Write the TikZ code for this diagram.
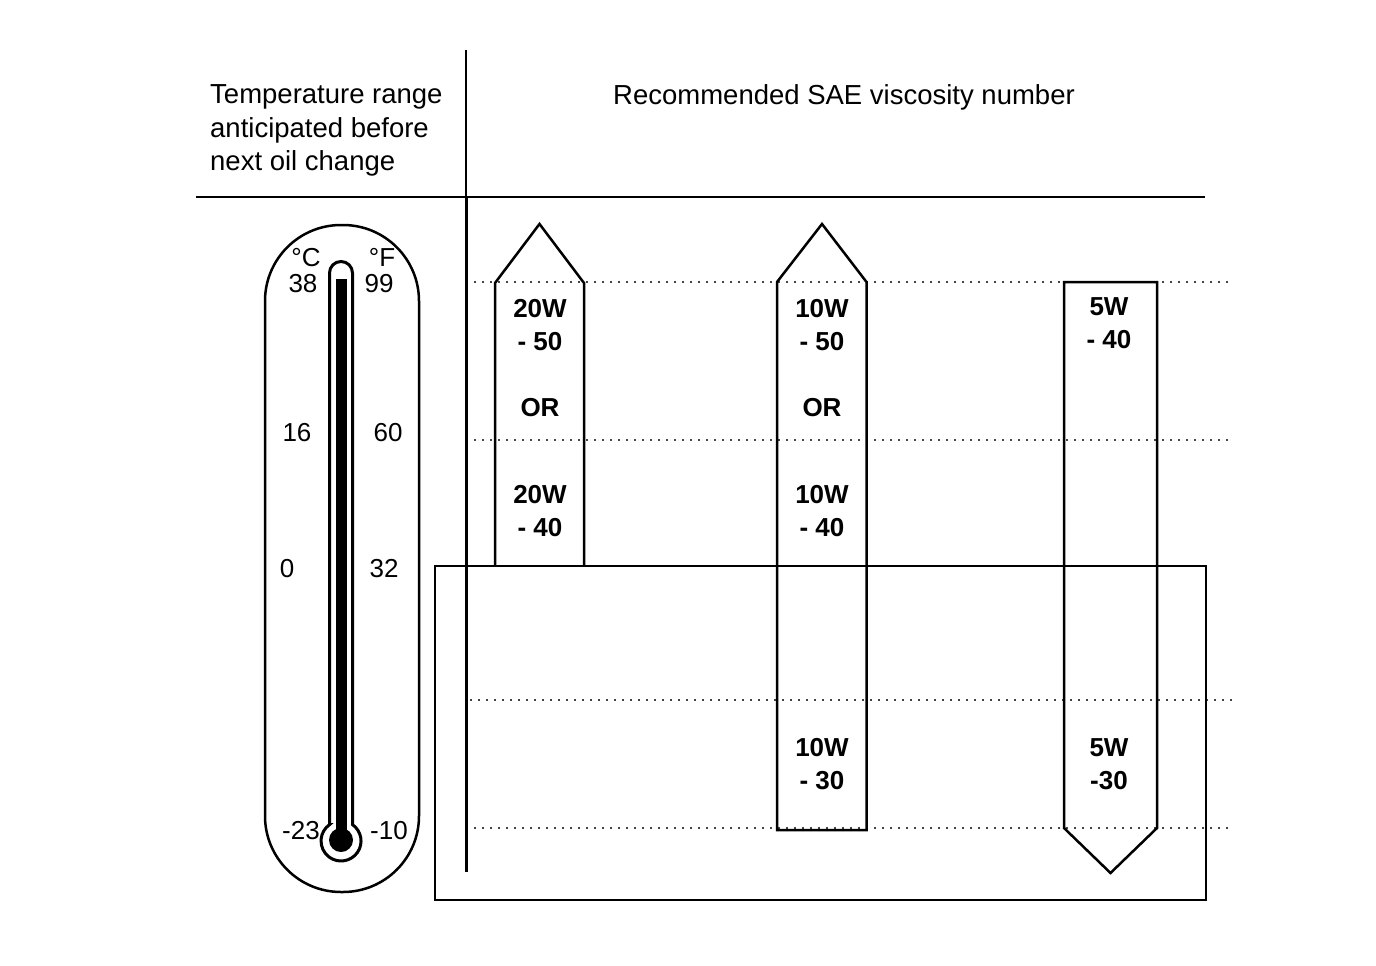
\documentclass[tikz,border=0pt]{standalone}
\usepackage{fontspec}
\setmainfont{Liberation Sans}
\usetikzlibrary{positioning,calc}
\definecolor{oilink}{HTML}{000000}
\definecolor{oilgrid}{HTML}{444444}
\tikzset{
  hdr/.style={font=\fontsize{27.5}{33}\selectfont, inner sep=0pt, text=oilink},
  scalelbl/.style={font=\fontsize{26}{30}\selectfont, inner sep=0pt, anchor=base, text=oilink},
  grade/.style={font=\bfseries\fontsize{26}{30}\selectfont, inner sep=0pt, anchor=base, text=oilink},
  bar/.style={draw=oilink, line width=2.5pt, line join=miter},
  thermo/.style={draw=oilink, line width=2.5pt},
  rule/.style={draw=oilink, line width=2.5pt},
  thinrule/.style={draw=oilink, line width=1.2pt},
  divider/.style={draw=oilink, line width=3pt},
  frame/.style={draw=oilink, line width=1.5pt},
  guide/.style={draw=oilgrid, line width=1.5pt, dash pattern=on 2pt off 6pt},
}
\begin{document}
\begin{tikzpicture}[x=1pt,y=-1pt]
  \useasboundingbox (0,0) rectangle (1376,966);
  \foreach \y/\xa/\xb in {282/466/1230, 440/466/1230, 700/470/1235, 828/466/1230}
    \draw[guide] (\xa,\y) -- (\xb,\y);
  \draw[rule] (196,197) -- (1205,197);
  \draw[thinrule] (466,50) -- (466,197);
  \draw[divider] (466,197) -- (466,872);
  \draw[frame] (435,566) rectangle (1206,900);

  \node[hdr,anchor=base west] (rangeA) at (210,103) {Temperature range};
  \node[hdr,anchor=base west] (rangeB) at (210,137) {anticipated before};
  \node[hdr,anchor=base west] (rangeC) at (210,170) {next oil change};
  \node[hdr,anchor=base] (sae) at (844,104) {Recommended SAE viscosity number};

  \draw[thermo,rounded corners=76] (265,225) rectangle (419,892);
  \draw[thermo,line width=3pt] (329.5,824.6) -- (329.5,273) arc (180:360:11.5)
    -- (352.5,824.6) arc (-55:235:20) -- cycle;
  \fill[oilink] (335.5,279) rectangle (346.5,836);
  \fill[oilink] (341,840) circle (12);

  \node[scalelbl] (degC) at (306,266) {°C};
  \node[scalelbl] (degF) at (382,266) {°F};
  \node[scalelbl] (c38) at (303,292) {38};
  \node[scalelbl] (f99) at (379,292) {99};
  \node[scalelbl] (c16) at (297,441) {16};
  \node[scalelbl] (f60) at (388,441) {60};
  \node[scalelbl] (c0) at (287,577) {0};
  \node[scalelbl] (f32) at (384,577) {32};
  \node[scalelbl] (cm23) at (301,839) {-23};
  \node[scalelbl] (fm10) at (389,839) {-10};

  \draw[bar] (495,566) -- (495,283) -- (539.5,224) -- (584,283) -- (584,566);
  \draw[bar] (777,830) -- (777,282) -- (822,224) -- (866.5,282) -- (866.5,830) -- cycle;
  \draw[bar] (1064,282) -- (1157,282) -- (1157,828) -- (1110.5,873) -- (1064,828) -- cycle;

  \node[grade] (w20a) at (540,317) {20W};
  \node[grade] (w20b) at (540,350) {- 50};
  \node[grade] (or20) at (540,416) {OR};
  \node[grade] (w20c) at (540,503) {20W};
  \node[grade] (w20d) at (540,536) {- 40};

  \node[grade] (w10a) at (822,317) {10W};
  \node[grade] (w10b) at (822,350) {- 50};
  \node[grade] (or10) at (822,416) {OR};
  \node[grade] (w10c) at (822,503) {10W};
  \node[grade] (w10d) at (822,536) {- 40};
  \node[grade] (w10e) at (822,756) {10W};
  \node[grade] (w10f) at (822,789) {- 30};

  \node[grade] (w5a) at (1109,315) {5W};
  \node[grade] (w5b) at (1109,348) {- 40};
  \node[grade] (w5c) at (1109,756) {5W};
  \node[grade] (w5d) at (1109,789) {-30};
\end{tikzpicture}
\end{document}
